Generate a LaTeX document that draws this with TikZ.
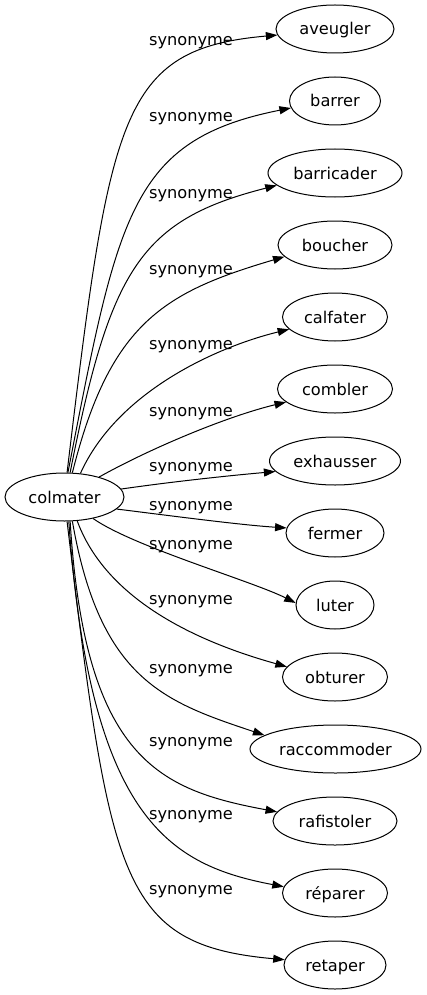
\documentclass[tikz,border=0pt]{standalone}
\usepackage{fontspec}
\setmainfont{DejaVu Sans}
\usetikzlibrary{shapes.geometric,arrows.meta}
\begin{document}
\begin{tikzpicture}[x=1pt,y=-1pt,
  word/.style={draw, ellipse, line width=1pt, inner sep=0pt, minimum height=48pt, text height=13pt, text depth=1pt},
  lab/.style={inner sep=0pt, text height=13pt, text depth=1pt},
  syn/.style={-{Triangle[length=11.5pt,width=8pt]}, line width=1pt}]
\useasboundingbox (0,0) rectangle (426,995);
\fontsize{16.2}{19}\selectfont
\node[word, minimum width=119pt] (colmater) at (64.5,497) {colmater};
\node[word, minimum width=118pt] (aveugler) at (335,29) {aveugler};
\node[word, minimum width=91pt] (barrer) at (335,101) {barrer};
\node[word, minimum width=134pt] (barricader) at (335,173) {barricader};
\node[word, minimum width=114pt] (boucher) at (335,245) {boucher};
\node[word, minimum width=105pt] (calfater) at (335,317) {calfater};
\node[word, minimum width=115pt] (combler) at (335,389) {combler};
\node[word, minimum width=131pt] (exhausser) at (335,461) {exhausser};
\node[word, minimum width=98pt] (fermer) at (335,533) {fermer};
\node[word, minimum width=78pt] (luter) at (335,605) {luter};
\node[word, minimum width=105pt] (obturer) at (335,677) {obturer};
\node[word, minimum width=171pt] (raccommoder) at (335.5,749) {raccommoder};
\node[word, minimum width=124pt] (rafistoler) at (335,821) {rafistoler};
\node[word, minimum width=105pt] (reparer) at (335,893) {réparer};
\node[word, minimum width=102pt] (retaper) at (335,965) {retaper};
\node[lab] (l1) at (191,40) {synonyme};
\node[lab] (l2) at (191,116) {synonyme};
\node[lab] (l3) at (191,193) {synonyme};
\node[lab] (l4) at (191,268) {synonyme};
\node[lab] (l5) at (191,343) {synonyme};
\node[lab] (l6) at (191,410) {synonyme};
\node[lab] (l7) at (191,465) {synonyme};
\node[lab] (l8) at (191,504) {synonyme};
\node[lab] (l9) at (191,543) {synonyme};
\node[lab] (l10) at (191,598) {synonyme};
\node[lab] (l11) at (191,667) {synonyme};
\node[lab] (l12) at (191,740) {synonyme};
\node[lab] (l13) at (191,813) {synonyme};
\node[lab] (l14) at (191,888) {synonyme};
\draw[syn] (colmater.84) .. controls (110,114) and (120,49) .. (aveugler.186);
\draw[syn] (colmater.82) .. controls (118,215) and (130,140) .. (barrer.189);
\draw[syn] (colmater.77) .. controls (110,270) and (140,220) .. (barricader.192);
\draw[syn] (colmater.72) .. controls (110,322) and (165,292) .. (boucher.193);
\draw[syn] (colmater.56) .. controls (118,390) and (220,346) .. (calfater.195);
\draw[syn] (colmater.30) .. controls (151,448) and (228,416) .. (combler.195);
\draw[syn] (colmater.8) .. controls (170,482) and (225,476) .. (exhausser.190);
\draw[syn] (colmater.-13) .. controls (165,515) and (240,525) .. (fermer.174);
\draw[syn] (colmater.-37) .. controls (134,547) and (252,581) .. (luter.177);
\draw[syn] (colmater.-62) .. controls (110,610) and (220,648) .. (obturer.168);
\draw[syn] (colmater.-72) .. controls (100,680) and (165,702) .. (raccommoder.169);
\draw[syn] (colmater.-77) .. controls (85,760) and (160,790) .. (rafistoler.171);
\draw[syn] (colmater.-80) .. controls (90,820) and (170,865) .. (reparer.173);
\draw[syn] (colmater.-84) .. controls (110,880) and (120,945) .. (retaper.174);
\end{tikzpicture}
\end{document}
